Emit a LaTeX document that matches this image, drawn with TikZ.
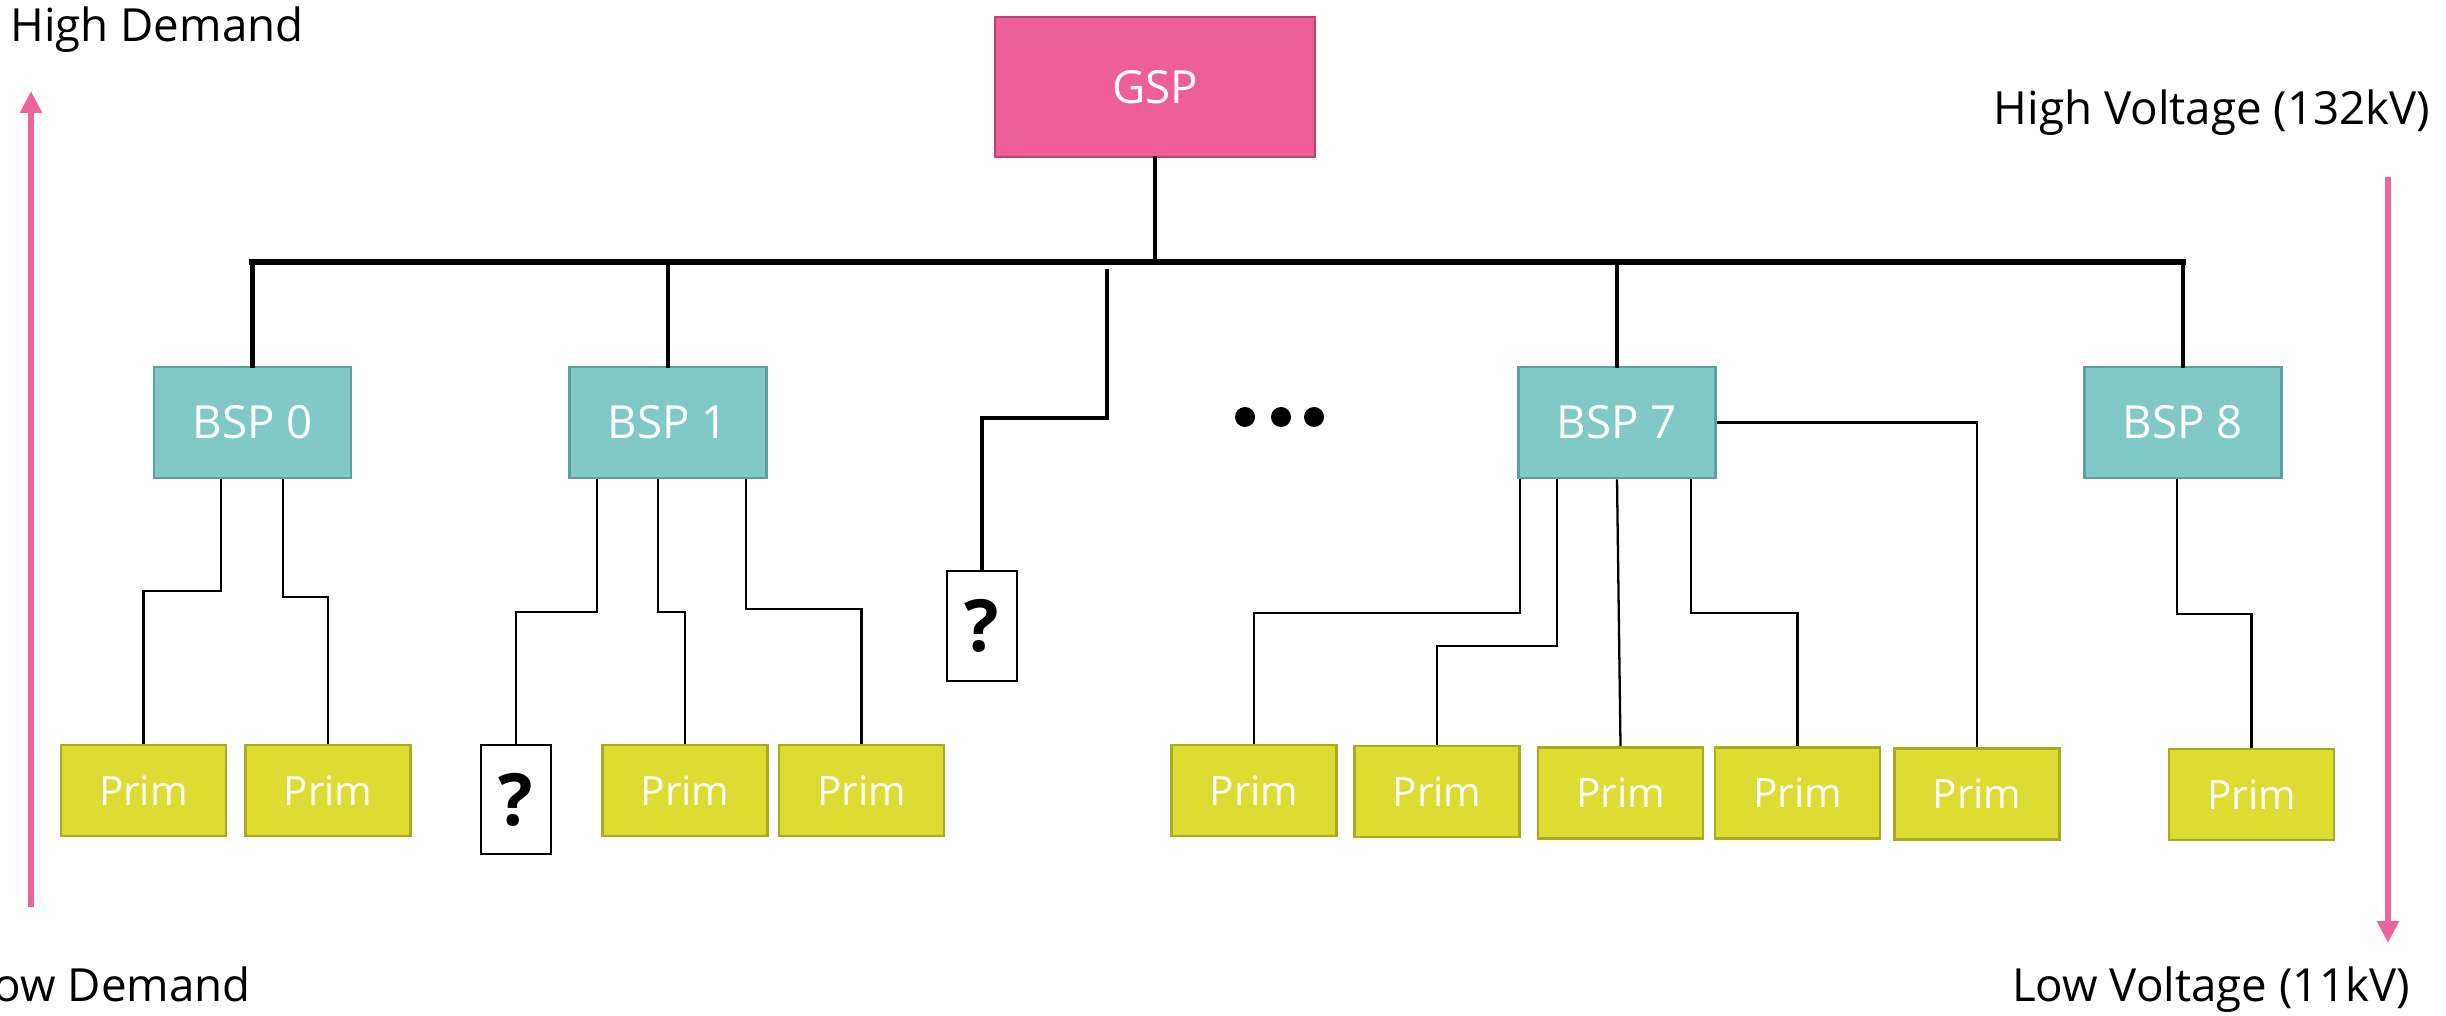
\documentclass[tikz,border=0pt]{standalone}
\usepackage{fontspec}
\setmainfont{Open Sans}
\usetikzlibrary{arrows.meta,calc}
\definecolor{gspfill}{RGB}{237,95,150}
\definecolor{gspdraw}{RGB}{184,68,111}
\definecolor{bspfill}{RGB}{129,201,198}
\definecolor{bspdraw}{RGB}{95,158,155}
\definecolor{primfill}{RGB}{220,220,50}
\definecolor{primdraw}{RGB}{170,170,30}
\definecolor{arrowpink}{RGB}{236,100,155}
\begin{document}
\begin{tikzpicture}[x=0.02cm,y=-0.02cm,
  gspbox/.style={draw=gspdraw,fill=gspfill,line width=1.5pt,minimum width=6.4cm,minimum height=2.8cm,inner sep=0pt,text=white,font=\fontsize{26}{30}\selectfont},
  bspbox/.style={draw=bspdraw,fill=bspfill,line width=1.5pt,minimum width=3.94cm,minimum height=2.22cm,inner sep=0pt,text=white,font=\fontsize{26}{30}\selectfont},
  primbox/.style={draw=primdraw,fill=primfill,line width=1.6pt,minimum width=3.3cm,minimum height=1.82cm,inner sep=0pt,text=white,font=\fontsize{23}{27}\selectfont},
  qbox/.style={draw=black,fill=white,line width=1.4pt,minimum width=1.4cm,minimum height=2.18cm,inner sep=0pt,font=\bfseries\fontsize{41}{45}\selectfont},
  bus/.style={line width=3.6pt,line cap=rect},
  trunk/.style={line width=2.8pt,line cap=rect},
  feed/.style={line width=1.3pt},
  demarrow/.style={draw=arrowpink,line width=3.2pt,-{Triangle[length=0.44cm,width=0.42cm,fill=arrowpink]}},
  lbl/.style={anchor=base,inner sep=0pt,font=\fontsize{26}{30}\selectfont}]
\useasboundingbox (0,0) rectangle (2446,1016);
\clip (0,0) rectangle (2446,1016);

% labels
\node[lbl] (hd) at (157,42) {High Demand};
\node[lbl,anchor=base east] (ld) at (251,1001) {Low Demand};
\node[lbl] (hv) at (2212,125) {High Voltage (132kV)};
\node[lbl] (lv) at (2211,1001) {Low Voltage (11kV)};

% side arrows
\coordinate (la0) at (31,907);
\coordinate (la1) at (31,91);
\coordinate (ra0) at (2388,177);
\coordinate (ra1) at (2388,943);
\draw[demarrow] (la0) -- (la1);
\draw[demarrow] (ra0) -- (ra1);

% nodes
\node[gspbox] (gsp) at (1155,87) {GSP};
\node[bspbox] (bsp0) at (252.5,422.5) {BSP 0};
\node[bspbox] (bsp1) at (668,422.5) {BSP 1};
\node[bspbox] (bsp7) at (1617,422.5) {BSP 7};
\node[bspbox] (bsp8) at (2183,422.5) {BSP 8};

\node[primbox] (p0a) at (143.5,790.5) {Prim};
\node[primbox] (p0b) at (328,790.5) {Prim};
\node[qbox] (q1) at (516,799.5) {?};
\node[primbox] (p1a) at (685,790.5) {Prim};
\node[primbox] (p1b) at (861.5,790.5) {Prim};
\node[qbox,minimum height=2.2cm] (q2) at (982,626) {?};
\node[primbox] (p7a) at (1254,790.5) {Prim};
\node[primbox] (p7b) at (1437,791.5) {Prim};
\node[primbox] (p7c) at (1620.5,793) {Prim};
\node[primbox] (p7d) at (1797.5,793) {Prim};
\node[primbox] (p7e) at (1977,794) {Prim};
\node[primbox] (p8) at (2251.5,794.5) {Prim};

% dots
\fill (1245,417) circle[radius=0.2cm];
\fill (1281,417) circle[radius=0.2cm];
\fill (1314,417) circle[radius=0.2cm];

% bus
\coordinate (busY) at (0,262);
\draw[bus] (bsp0.north |- busY) -- (bsp8.north |- busY);
\draw[trunk] (gsp.south) -- (gsp.south |- busY);
\draw[trunk] (bsp0.north |- busY) -- (bsp0.north);
\draw[trunk] (bsp1.north |- busY) -- (bsp1.north);
\draw[trunk] (bsp7.north |- busY) -- (bsp7.north);
\draw[trunk] (bsp8.north |- busY) -- (bsp8.north);

% branch to unknown
\coordinate (qtop) at (1107,269);
\draw[trunk,line cap=butt] (qtop) -- ++(0,149) -| (q2.north);

% feeders
\draw[feed] ($(bsp0.south)+(-31.5,0)$) -- ++(0,112) -| (p0a.north);
\draw[feed] ($(bsp0.south)+(30.5,0)$) -- ++(0,118) -| (p0b.north);
\draw[feed] ($(bsp1.south)+(-71,0)$) -- ++(0,133) -| (q1.north);
\draw[feed] ($(bsp1.south)+(-10,0)$) -- ++(0,133) -| (p1a.north);
\draw[feed] ($(bsp1.south)+(78,0)$) -- ++(0,130) -| (p1b.north);
\draw[feed] ($(bsp7.south)+(-97,0)$) -- ++(0,134) -| (p7a.north);
\draw[feed] ($(bsp7.south)+(-60,0)$) -- ++(0,167) -| (p7b.north);
\draw[feed] (bsp7.south) -- (p7c.north);
\draw[feed] ($(bsp7.south)+(74,0)$) -- ++(0,134) -| (p7d.north);
\draw[feed] (bsp7.east) -| (p7e.north);
\draw[feed] ($(bsp8.south)+(-6,0)$) -- ++(0,135) -| (p8.north);
\end{tikzpicture}
\end{document}
